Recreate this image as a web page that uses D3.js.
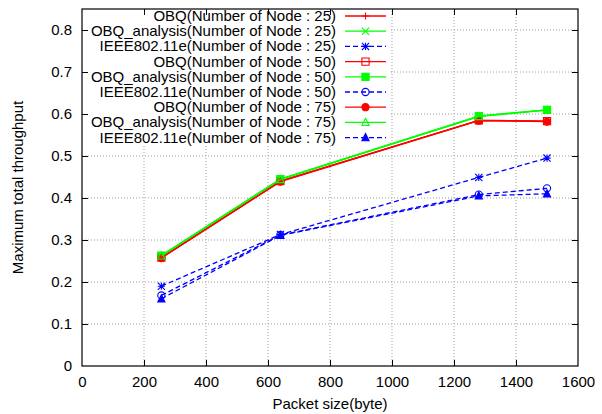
<!DOCTYPE html>
<html>
<head>
<meta charset="utf-8">
<script src="https://cdn.jsdelivr.net/npm/d3@7"></script>
<style>
  body { margin: 0; background: #fff; }
  text { font-family: "Liberation Sans", Arial, sans-serif; }
</style>
</head>
<body>
<div id="chart"></div>
<script>
// DATA
var packetSizes = [256, 640, 1280, 1500];
var obq25 = [0.258, 0.440, 0.585, 0.583];
var analysis25 = [0.263, 0.445, 0.595, 0.610];
var ieee25 = [0.190, 0.313, 0.449, 0.495];
var obq50 = [0.258, 0.440, 0.585, 0.583];
var analysis50 = [0.263, 0.445, 0.595, 0.610];
var ieee50 = [0.168, 0.312, 0.408, 0.423];
var obq75 = [0.257, 0.439, 0.584, 0.582];
var analysis75 = [0.262, 0.444, 0.594, 0.609];
var ieee75 = [0.160, 0.311, 0.405, 0.410];
var xTicks = [0, 200, 400, 600, 800, 1000, 1200, 1400, 1600];
var yTicks = [0, 0.1, 0.2, 0.3, 0.4, 0.5, 0.6, 0.7, 0.8];

var series = [
  { name: "OBQ(Number of Node : 25)", values: obq25, color: "#ff0000", dash: null, marker: "plus" },
  { name: "OBQ_analysis(Number of Node : 25)", values: analysis25, color: "#00ff00", dash: null, marker: "cross" },
  { name: "IEEE802.11e(Number of Node : 25)", values: ieee25, color: "#0000ff", dash: "5,3", marker: "star" },
  { name: "OBQ(Number of Node : 50)", values: obq50, color: "#ff0000", dash: null, marker: "box" },
  { name: "OBQ_analysis(Number of Node : 50)", values: analysis50, color: "#00ff00", dash: null, marker: "fbox" },
  { name: "IEEE802.11e(Number of Node : 50)", values: ieee50, color: "#0000ff", dash: "5,3", marker: "circle" },
  { name: "OBQ(Number of Node : 75)", values: obq75, color: "#ff0000", dash: null, marker: "fcircle" },
  { name: "OBQ_analysis(Number of Node : 75)", values: analysis75, color: "#00ff00", dash: null, marker: "tri" },
  { name: "IEEE802.11e(Number of Node : 75)", values: ieee75, color: "#0000ff", dash: "5,3", marker: "ftri" }
];

var width = 602, height = 414;
var margin = { top: 9, right: 24, bottom: 48, left: 82 };
var plotW = width - margin.left - margin.right;
var plotH = height - margin.top - margin.bottom;
var fontSize = 15;

var svg = d3.select("#chart").append("svg")
  .attr("width", width)
  .attr("height", height);

var x = d3.scaleLinear().domain([0, 1600]).range([margin.left, margin.left + plotW]);
var y = d3.scaleLinear().domain([0, 0.85]).range([margin.top + plotH, margin.top]);

// grid
var grid = svg.append("g");
grid.selectAll("line.gx")
  .data(xTicks.slice(1, -1))
  .enter().append("line")
  .attr("x1", function (d) { return x(d); })
  .attr("x2", function (d) { return x(d); })
  .attr("y1", y(0)).attr("y2", y(0.85))
  .attr("stroke", "#a0a0a0").attr("stroke-width", 1)
  .attr("stroke-dasharray", "1,2");
grid.selectAll("line.gy")
  .data(yTicks.slice(1))
  .enter().append("line")
  .attr("x1", x(0)).attr("x2", x(1600))
  .attr("y1", function (d) { return y(d); })
  .attr("y2", function (d) { return y(d); })
  .attr("stroke", "#a0a0a0").attr("stroke-width", 1)
  .attr("stroke-dasharray", "1,2");

// opaque key background
svg.append("rect")
  .attr("x", margin.left + 2).attr("y", margin.top + 1)
  .attr("width", 305).attr("height", 136)
  .attr("fill", "#fff");

// axes (ticks inward, mirrored)
var xAxis = d3.axisBottom(x).tickValues(xTicks).tickSize(-6).tickPadding(10).tickFormat(d3.format("d"));
var yAxis = d3.axisLeft(y).tickValues(yTicks).tickSize(-6).tickPadding(10).tickFormat(function (d) { return d === 0 ? "0" : d3.format(".1f")(d); });

var gx = svg.append("g").attr("transform", "translate(0," + y(0) + ")").call(xAxis);
var gy = svg.append("g").attr("transform", "translate(" + x(0) + ",0)").call(yAxis);
var gxTop = svg.append("g").attr("transform", "translate(0," + y(0.85) + ")")
  .call(d3.axisTop(x).tickValues(xTicks).tickSize(-6).tickFormat(""));
var gyRight = svg.append("g").attr("transform", "translate(" + x(1600) + ",0)")
  .call(d3.axisRight(y).tickValues(yTicks).tickSize(-6).tickFormat(""));
[gx, gy, gxTop, gyRight].forEach(function (g) {
  g.select(".domain").remove();
  g.selectAll("line").attr("stroke", "#000");
  g.selectAll("text").attr("font-size", fontSize).attr("fill", "#000")
    .style("font-family", "'Liberation Sans', Arial, sans-serif");
});
gyRight.selectAll(".tick").filter(function (d) { return d === 0; }).remove();
gxTop.selectAll(".tick").filter(function (d) { return d === 0 || d === 1600; }).remove();
gx.selectAll(".tick line").filter(function (d) { return d === 0 || d === 1600; }).remove();
gy.selectAll(".tick line").filter(function (d) { return d === 0; }).remove();

svg.append("rect")
  .attr("x", x(0)).attr("y", y(0.85))
  .attr("width", plotW).attr("height", plotH)
  .attr("fill", "none").attr("stroke", "#000").attr("stroke-width", 1.2);

// axis titles
svg.append("text")
  .attr("x", margin.left + plotW / 2).attr("y", 409)
  .attr("text-anchor", "middle").attr("font-size", fontSize)
  .text("Packet size(byte)");
svg.append("text")
  .attr("transform", "translate(23," + (margin.top + plotH / 2) + ") rotate(-90)")
  .attr("text-anchor", "middle").attr("font-size", fontSize)
  .text("Maximum total throughput");

// markers
function markerPath(type) {
  var s = 3.6;
  switch (type) {
    case "plus": return "M" + -s + ",0H" + s + "M0," + -s + "V" + s;
    case "cross": return "M" + -s + "," + -s + "L" + s + "," + s + "M" + -s + "," + s + "L" + s + "," + -s;
    case "star": return "M" + -s + ",0H" + s + "M0," + -s + "V" + s +
      "M" + -s + "," + -s + "L" + s + "," + s + "M" + -s + "," + s + "L" + s + "," + -s;
    case "box": case "fbox": return "M" + -s + "," + -s + "H" + s + "V" + s + "H" + -s + "Z";
    case "circle": case "fcircle":
      return "M" + s + ",0A" + s + "," + s + " 0 1,1 " + -s + ",0A" + s + "," + s + " 0 1,1 " + s + ",0Z";
    case "tri": case "ftri": return "M0," + (-s - 0.5) + "L" + s + "," + (s - 0.5) + "L" + -s + "," + (s - 0.5) + "Z";
  }
}
function isFilled(type) { return type.charAt(0) === "f"; }

var line = d3.line()
  .x(function (d, i) { return x(packetSizes[i]); })
  .y(function (d) { return y(d); });

series.forEach(function (s) {
  var g = svg.append("g");
  g.append("path")
    .attr("d", line(s.values))
    .attr("fill", "none")
    .attr("stroke", s.color)
    .attr("stroke-width", 1.3)
    .attr("stroke-dasharray", s.dash);
  g.selectAll("path.pt")
    .data(s.values)
    .enter().append("path")
    .attr("transform", function (d, i) { return "translate(" + x(packetSizes[i]) + "," + y(d) + ")"; })
    .attr("d", markerPath(s.marker))
    .attr("fill", isFilled(s.marker) ? s.color : "none")
    .attr("stroke", s.color)
    .attr("stroke-width", 1.1);
});

// legend
var key = svg.append("g");
series.forEach(function (s, i) {
  var ky = 16 + i * 15.2;
  key.append("text")
    .attr("x", 336).attr("y", ky + 5)
    .attr("text-anchor", "end").attr("font-size", fontSize)
    .text(s.name);
  key.append("line")
    .attr("x1", 345).attr("x2", 386)
    .attr("y1", ky).attr("y2", ky)
    .attr("stroke", s.color).attr("stroke-width", 1.3)
    .attr("stroke-dasharray", s.dash);
  key.append("path")
    .attr("transform", "translate(365.5," + ky + ")")
    .attr("d", markerPath(s.marker))
    .attr("fill", isFilled(s.marker) ? s.color : "none")
    .attr("stroke", s.color)
    .attr("stroke-width", 1.1);
});
</script>
</body>
</html>
